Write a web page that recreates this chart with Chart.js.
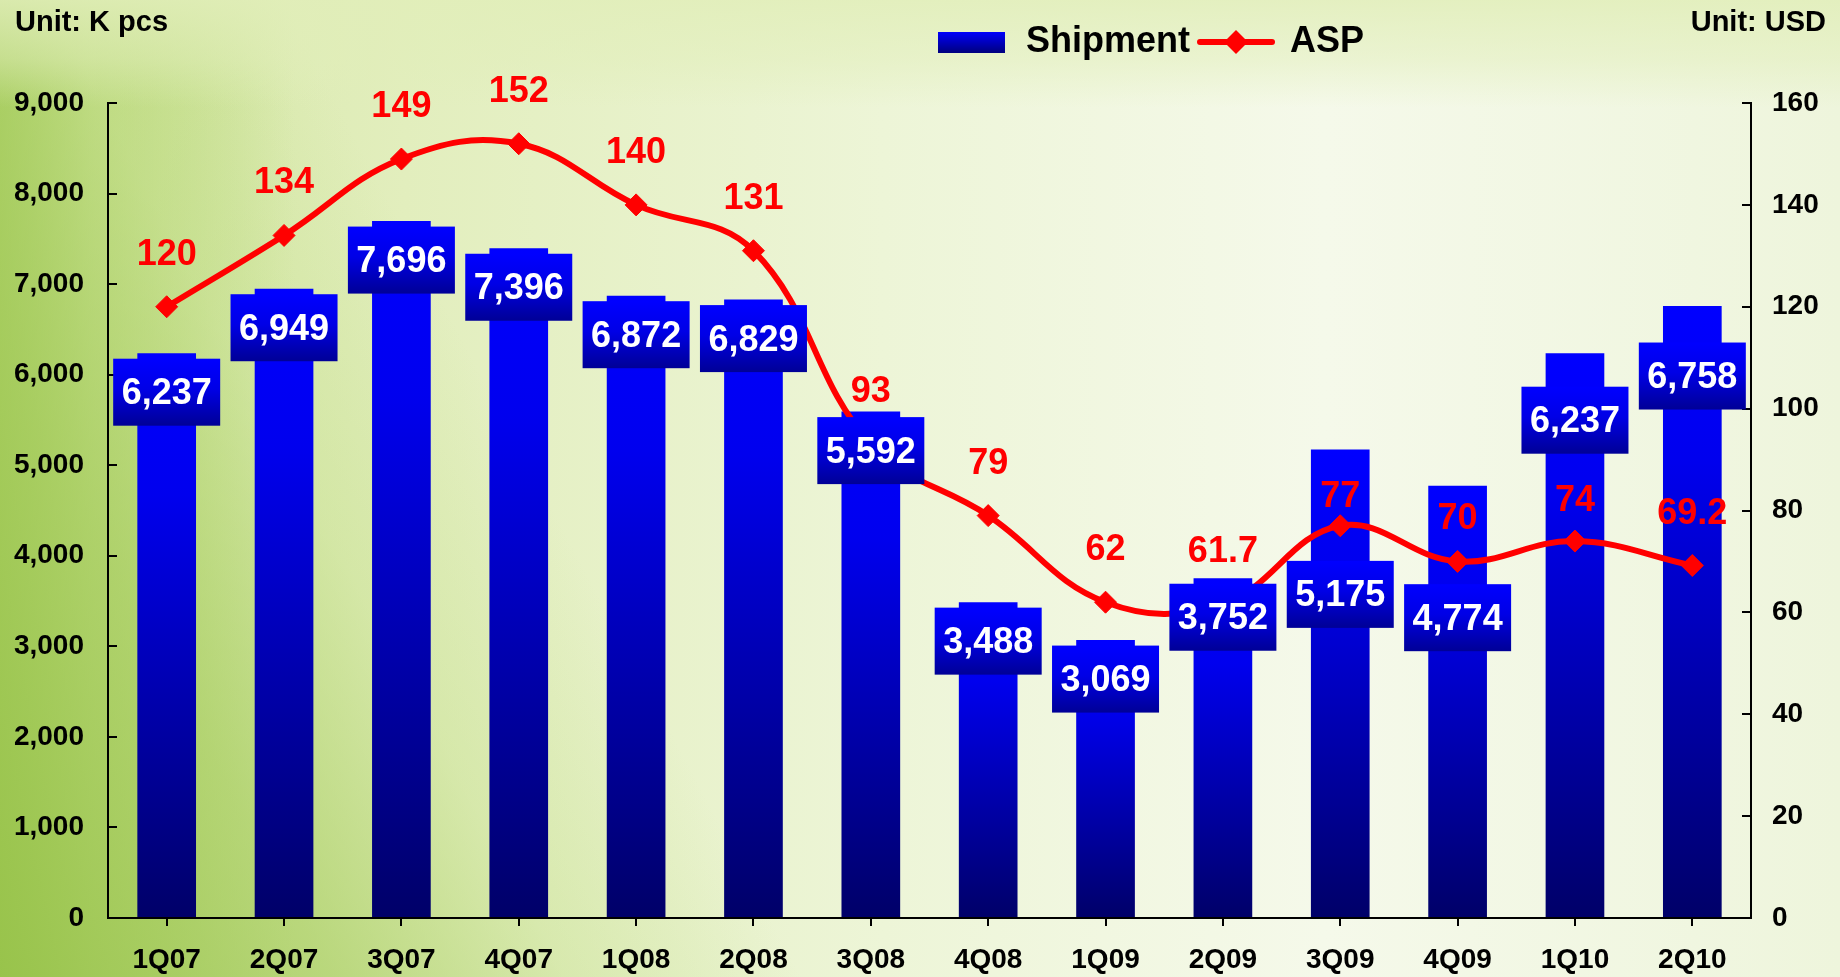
<!DOCTYPE html>
<html>
<head>
<meta charset="utf-8">
<script src="https://cdn.jsdelivr.net/npm/chart.js@4.4.1/dist/chart.umd.min.js"></script>
<style>
    html, body { margin: 0; padding: 0; }
    #wrap {
        position: relative;
        width: 1840px;
        height: 977px;
        background:
            linear-gradient(to bottom, rgba(225,238,185,0.85) 0%, rgba(225,238,185,0.5) 6%, rgba(255,255,255,0) 11%),
            linear-gradient(62deg, rgba(150,194,72,0.85) 0%, rgba(165,204,92,0.65) 14%, rgba(190,220,130,0.35) 24%, rgba(255,255,255,0) 34%),
            linear-gradient(to right, rgba(160,200,85,0.9) 0%, rgba(175,210,105,0.6) 5%, rgba(255,255,255,0) 16%),
            linear-gradient(to right, #d3e6a2 0%, #e2eebd 22%, #edf5d7 48%, #f5f9ea 72%, #eef5dc 100%);
    }
</style>
</head>
<body>
<div id="wrap"><canvas id="salesChart"></canvas></div>
<script>
// Shipment (K pcs) and ASP (USD) by quarter

const quarters = ["1Q07", "2Q07", "3Q07", "4Q07", "1Q08", "2Q08", "3Q08", "4Q08", "1Q09", "2Q09", "3Q09", "4Q09", "1Q10", "2Q10"];
const shipment = [6237, 6949, 7696, 7396, 6872, 6829, 5592, 3488, 3069, 3752, 5175, 4774, 6237, 6758];
const asp = [120, 134, 149, 152, 140, 131, 93, 79, 62, 61.7, 77, 70, 74, 69.2];
const aspText = ["120", "134", "149", "152", "140", "131", "93", "79", "62", "61.7", "77", "70", "74", "69.2"];

// label placement tweaks (px), kept apart from the data
const boxDrop = [0, 0, 0, 0, 0, 0, 0, 0, 0, 0, 106, 93, 28, 31];
const aspRaise = [54, 54, 54, 54, 54, 54, 54, 54, 54, 54, 31, 44, 42, 53];

const FONT = "'Liberation Sans', Arial, sans-serif";

// legend swatches
const barSwatch = document.createElement("canvas");
barSwatch.width = 67;
barSwatch.height = 21;
(function () {
    const c = barSwatch.getContext("2d");
    const g = c.createLinearGradient(0, 0, 0, 21);
    g.addColorStop(0, "#0000ff");
    g.addColorStop(1, "#000080");
    c.fillStyle = g;
    c.fillRect(0, 0, 67, 21);
})();

const lineSwatch = document.createElement("canvas");
lineSwatch.width = 78;
lineSwatch.height = 26;
(function () {
    const c = lineSwatch.getContext("2d");
    c.strokeStyle = "#ff0000";
    c.lineWidth = 6;
    c.lineCap = "round";
    c.beginPath();
    c.moveTo(3, 13);
    c.lineTo(75, 13);
    c.stroke();
    c.fillStyle = "#ff0000";
    c.beginPath();
    c.moveTo(39, 1);
    c.lineTo(51, 13);
    c.lineTo(39, 25);
    c.lineTo(27, 13);
    c.closePath();
    c.fill();
})();

function barGradient(ctx) {
    const chart = ctx.chart;
    if (!chart.chartArea || ctx.type !== "data") {
        return "#0000ff";
    }
    const ys = chart.scales.y;
    const top = ys.getPixelForValue(ctx.parsed.y);
    const bottom = ys.getPixelForValue(0);
    const g = chart.ctx.createLinearGradient(0, top, 0, bottom);
    g.addColorStop(0, "#0000ff");
    g.addColorStop(0.25, "#0000ee");
    g.addColorStop(1, "#000068");
    return g;
}

const labelPlugin = {
    id: "valueLabels",
    afterDatasetsDraw(chart) {
        const ctx = chart.ctx;
        ctx.save();
        ctx.textAlign = "center";
        ctx.textBaseline = "middle";
        ctx.font = "bold 36px " + FONT;

        // shipment boxes
        chart.getDatasetMeta(0).data.forEach((bar, i) => {
            const cy = bar.y + 39 + boxDrop[i];
            const w = 107, h = 67;
            const g = ctx.createLinearGradient(0, cy - h / 2, 0, cy + h / 2);
            g.addColorStop(0, "#0000ff");
            g.addColorStop(0.45, "#0000e6");
            g.addColorStop(1, "#000096");
            ctx.fillStyle = g;
            ctx.fillRect(bar.x - w / 2, cy - h / 2, w, h);
            ctx.fillStyle = "#ffffff";
            ctx.fillText(shipment[i].toLocaleString("en-US"), bar.x, cy + 2);
        });

        // ASP values
        ctx.fillStyle = "#ff0000";
        chart.getDatasetMeta(1).data.forEach((pt, i) => {
            ctx.fillText(aspText[i], pt.x, pt.y - aspRaise[i] + 2);
        });
        ctx.restore();
    },
    afterDraw(chart) {
        const ctx = chart.ctx;
        ctx.save();
        ctx.fillStyle = "#000000";
        ctx.font = "bold 29px " + FONT;
        ctx.textBaseline = "middle";
        ctx.textAlign = "left";
        ctx.fillText("Unit: K pcs", 15, 23);
        ctx.textAlign = "right";
        ctx.fillText("Unit: USD", 1826, 23);
        ctx.restore();
    }
};

const legendShift = {
    id: "legendShift",
    afterLayout(chart) {
        const l = chart.legend;
        l.left += 223;
        l.right += 223;
        l.top -= 33;
        l.bottom -= 33;
    }
};

const tickFont = { family: FONT, size: 28, weight: "bold", lineHeight: 1.2 };

const salesChart = new Chart(document.getElementById("salesChart"), {
    type: "bar",

    data: {
        labels: quarters,
        datasets: [{
            label: "Shipment",
            data: shipment,
            yAxisID: "y",
            order: 1,
            backgroundColor: barGradient,
            borderWidth: 0,
            barPercentage: 0.5,
            categoryPercentage: 1.0
        }, {
            type: "line",
            label: "ASP",
            data: asp,
            yAxisID: "y1",
            order: 0,
            borderColor: "#ff0000",
            borderWidth: 6,
            tension: 0.4,
            pointStyle: "rectRot",
            pointRadius: 11,
            pointBackgroundColor: "#ff0000",
            pointBorderColor: "#ff0000",
            pointBorderWidth: 1
        }]
    },

    options: {
        responsive: true,
        maintainAspectRatio: false,
        animation: false,
        layout: {
            padding: { top: 47, left: 14, right: 0, bottom: 0 }
        },
        plugins: {
            tooltip: { enabled: false },
            legend: {
                position: "top",
                labels: {
                    usePointStyle: true,
                    pointStyleWidth: 72,
                    padding: 10,
                    color: "#000000",
                    font: { family: FONT, size: 36, weight: "bold" },
                    generateLabels: () => [
                        { text: "Shipment", pointStyle: barSwatch, fontColor: "#000000", datasetIndex: 0, hidden: false, lineWidth: 0 },
                        { text: "ASP", pointStyle: lineSwatch, fontColor: "#000000", datasetIndex: 1, hidden: false, lineWidth: 0 }
                    ]
                }
            }
        },
        scales: {
            x: {
                afterFit: (s) => { s.height = 59; },
                grid: {
                    offset: false,
                    drawOnChartArea: false,
                    tickLength: 8,
                    color: "#000000",
                    lineWidth: 2
                },
                border: { color: "#000000", width: 2 },
                ticks: { color: "#000000", font: tickFont, padding: 17, maxRotation: 0 }
            },
            y: {
                position: "left",
                min: 0,
                max: 9000,
                afterFit: (s) => { s.width = 94; },
                grid: {
                    drawOnChartArea: false,
                    tickLength: -9,
                    color: "#000000",
                    lineWidth: 2
                },
                border: { color: "#000000", width: 2 },
                ticks: {
                    stepSize: 1000,
                    color: "#000000",
                    font: tickFont,
                    padding: 33,
                    callback: (v) => v.toLocaleString("en-US")
                }
            },
            y1: {
                position: "right",
                min: 0,
                max: 160,
                afterFit: (s) => { s.width = 89; },
                grid: {
                    drawOnChartArea: false,
                    tickLength: -9,
                    color: "#000000",
                    lineWidth: 2
                },
                border: { color: "#000000", width: 2 },
                ticks: { stepSize: 20, color: "#000000", font: tickFont, padding: 30 }
            }
        }
    },

    plugins: [labelPlugin, legendShift]
});
</script>
</body>
</html>
